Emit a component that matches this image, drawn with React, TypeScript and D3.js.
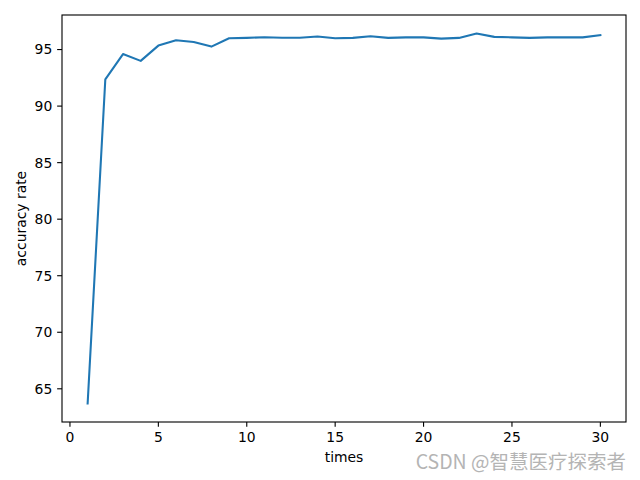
import React from "react";
import * as d3 from "d3";

const times = [1,2,3,4,5,6,7,8,9,10,11,12,13,14,15,16,17,18,19,20,21,22,23,24,25,26,27,28,29,30];
const accuracy = [63.7,92.37,94.6,94.0,95.35,95.82,95.67,95.26,96.0,96.03,96.09,96.05,96.05,96.15,96.0,96.03,96.18,96.03,96.08,96.08,95.97,96.03,96.42,96.12,96.08,96.03,96.08,96.08,96.08,96.28];
const xTicks = [0,5,10,15,20,25,30];
const yTicks = [65,70,75,80,85,90,95];

const W = 640, H = 480;
const L = 62, R = 626, T = 15, B = 422;

export default function App() {
  const xmin = d3.min(times)!, xmax = d3.max(times)!;
  const xm = (xmax - xmin) * 0.05;
  const ymin = d3.min(accuracy)!, ymax = d3.max(accuracy)!;
  const ym = (ymax - ymin) * 0.05;
  const x = d3.scaleLinear().domain([xmin - xm, xmax + xm]).range([L, R]);
  const y = d3.scaleLinear().domain([ymin - ym, ymax + ym]).range([B, T]);
  const line = d3.line<number>().x((_, i) => x(times[i])).y((d) => y(d));
  const font = "DejaVu Sans, sans-serif";
  return (
    <svg width={W} height={H} style={{ position: "absolute", left: 0, top: 0, background: "#fff" }} fontFamily={font}>
      <rect x={0} y={0} width={W} height={H} fill="#fff" />
      <path d={line(accuracy) || ""} fill="none" stroke="#1f77b4" strokeWidth={2.08} strokeLinejoin="round" strokeLinecap="square" />
      <rect x={L} y={T} width={R - L} height={B - T} fill="none" stroke="#000" strokeWidth={1.11} />
      {xTicks.map((t) => (
        <g key={"x" + t}>
          <line x1={x(t)} x2={x(t)} y1={B} y2={B + 4.86} stroke="#000" strokeWidth={1.11} />
          <text x={x(t)} y={B + 4.86 + 4.86 + 10.5} textAnchor="middle" fontSize={13.9} fill="#000">{t}</text>
        </g>
      ))}
      {yTicks.map((t) => (
        <g key={"y" + t}>
          <line x1={L} x2={L - 4.86} y1={y(t)} y2={y(t)} stroke="#000" strokeWidth={1.11} />
          <text x={L - 4.86 - 4.86} y={y(t)} dy="0.35em" textAnchor="end" fontSize={13.9} fill="#000">{t}</text>
        </g>
      ))}
      <text x={(L + R) / 2} y={462} textAnchor="middle" fontSize={13.9} fill="#000">times</text>
      <text transform={`translate(26,${(T + B) / 2}) rotate(-90)`} textAnchor="middle" fontSize={13.9} fill="#000">accuracy rate</text>
      <text x={626} y={469} textAnchor="end" fontSize={19.5} fill="#b4b4b4" fontFamily="Noto Sans CJK SC, sans-serif">CSDN @智慧医疗探索者</text>
    </svg>
  );
}
